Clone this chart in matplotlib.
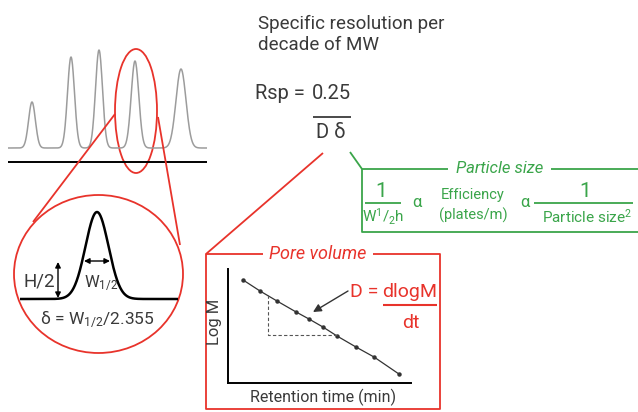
import matplotlib
matplotlib.use("Agg")
import numpy as np
import matplotlib.pyplot as plt
from matplotlib import font_manager
from matplotlib.patches import Ellipse

# font: prefer a narrow sans, fall back to Roboto
_names = {f.name for f in font_manager.fontManager.ttflist}
FONT = "Liberation Sans Narrow" if "Liberation Sans Narrow" in _names else "Roboto"
plt.rcParams["font.family"] = [FONT, "DejaVu Sans"]
plt.rcParams["mathtext.fontset"] = "custom"
plt.rcParams["mathtext.rm"] = FONT
plt.rcParams["mathtext.it"] = FONT + ":italic"

RED = "#e8332b"
GREEN = "#3aa54a"
TXT = "#3a3a3a"
GREY = "#9c9c9c"

# chromatogram peaks (pixel space of the drawing)
peak_pos = [32, 71, 99, 135, 181]
peak_height = [46, 91, 98, 87, 79]
peak_sigma = [3.4, 3.5, 3.5, 3.8, 5.0]
chrom_base = 148

# zoomed peak
zoom_pos, zoom_height, zoom_sigma, zoom_base = 97, 87, 11.5, 299

# calibration plot (log M vs retention time), arbitrary units 0..10
ret_time = [0.82, 1.75, 2.68, 3.72, 4.43, 5.19, 5.96, 6.99, 7.98, 9.34]
log_m = [9.04, 8.07, 7.19, 6.23, 5.61, 4.91, 4.12, 3.16, 2.28, 0.79]

W, H = 638, 412
fig = plt.figure(figsize=(W / 100, H / 100), dpi=100)
ax = fig.add_axes([0, 0, 1, 1])
ax.set_xlim(0, W)
ax.set_ylim(H, 0)
ax.axis("off")


def line(x, y, c, lw=1.2, **kw):
    ax.plot(x, y, color=c, lw=lw, solid_capstyle="butt", **kw)


# --- chromatogram ---
xs = np.linspace(8, 207, 600)
ys = np.full_like(xs, float(chrom_base))
for p, h, s in zip(peak_pos, peak_height, peak_sigma):
    ys -= h * np.exp(-0.5 * ((xs - p) / s) ** 2)
line(xs, ys, GREY, lw=1.1)
line([8, 207], [162, 162], "black", lw=1.4)

ax.add_patch(Ellipse((136, 111), 42, 124, fill=False, ec=RED, lw=1.3))
line([115, 33], [114, 222], RED, lw=1.3)
line([158, 180], [117, 245], RED, lw=1.3)

# --- zoom circle ---
ax.add_patch(Ellipse((98.5, 274), 169, 158, fill=False, ec=RED, lw=1.3))
zx = np.linspace(20, 178, 400)
zy = zoom_base - zoom_height * np.exp(-0.5 * ((zx - zoom_pos) / zoom_sigma) ** 2)
line(zx, zy, "black", lw=1.8)
ax.annotate("", xy=(58, 298), xytext=(58, 262),
            arrowprops=dict(arrowstyle="<|-|>", color="black", lw=1, mutation_scale=8,
                            shrinkA=0, shrinkB=0))
ax.annotate("", xy=(110, 261), xytext=(84, 261),
            arrowprops=dict(arrowstyle="<|-|>", color="black", lw=1, mutation_scale=8,
                            shrinkA=0, shrinkB=0))
ax.text(39, 286, "H/2", fontsize=13.5, color=TXT, ha="center", va="baseline")
ax.text(84, 287, "W$_{1/2}$", fontsize=12, color=TXT, ha="left", va="baseline")
ax.text(97, 324, "δ = W$_{1/2}$/2.355", fontsize=12.5, color=TXT, ha="center", va="baseline")

# --- title and Rsp formula ---
ax.text(258, 29, "Specific resolution per", fontsize=13.5, color=TXT, va="baseline")
ax.text(258, 50, "decade of MW", fontsize=13.5, color=TXT, va="baseline")
ax.text(305, 99, "Rsp =", fontsize=14.5, color=TXT, va="baseline", ha="right")
ax.text(331, 99, "0.25", fontsize=14.5, color=TXT, va="baseline", ha="center")
line([313, 351], [117, 117], TXT, lw=1.3)
ax.text(331, 138, "D δ", fontsize=14.5, color=TXT, va="baseline", ha="center")

# --- pore volume box ---
line([323, 206], [153, 254], RED, lw=1.3)
line([263, 206, 206, 440, 440, 373], [254, 254, 409, 409, 254, 254], RED, lw=1.3)
ax.text(318, 259, "Pore volume", fontsize=13, color=RED, style="italic",
        ha="center", va="baseline")
ax.text(215, 322, "Log M", fontsize=12, color=TXT, rotation=90, ha="center", va="center")
ax.text(323, 402, "Retention time (min)", fontsize=11.5, color=TXT, ha="center", va="baseline")
ax.annotate("", xy=(313, 312), xytext=(348, 291),
            arrowprops=dict(arrowstyle="-|>", color="#333333", lw=1, mutation_scale=12,
                            shrinkA=0, shrinkB=0))
ax.text(378, 297, "D =", fontsize=14, color=RED, va="baseline", ha="right")
ax.text(410, 297, "dlogM", fontsize=14, color=RED, va="baseline", ha="center")
line([383, 437], [305, 305], RED, lw=1.5)
ax.text(411, 328, "dt", fontsize=14, color=RED, va="baseline", ha="center")

# --- particle size box ---
line([350, 362], [152, 169], GREEN, lw=1.3)
line([448, 362, 362, 638], [169, 169, 232, 232], GREEN, lw=1.3)
line([551, 638], [169, 169], GREEN, lw=1.3)
ax.text(500, 173, "Particle size", fontsize=12, color=GREEN, style="italic",
        ha="center", va="baseline")
ax.text(381, 197, "1", fontsize=15, color=GREEN, ha="center", va="baseline")
line([365, 401], [203, 203], GREEN, lw=1.3)
ax.text(383, 222, "W$^{1}$/$_{2}$h", fontsize=11, color=GREEN, ha="center", va="baseline")
ax.text(417, 207, "α", fontsize=12, color=GREEN, ha="center", va="baseline")
ax.text(473, 199, "Efficiency", fontsize=10.5, color=GREEN, ha="center", va="baseline")
ax.text(473, 220, "(plates/m)", fontsize=10.5, color=GREEN, ha="center", va="baseline")
ax.text(525, 207, "α", fontsize=12, color=GREEN, ha="center", va="baseline")
ax.text(585, 197, "1", fontsize=15, color=GREEN, ha="center", va="baseline")
line([534, 633], [203, 203], GREEN, lw=1.3)
ax.text(587, 223, "Particle size$^{2}$", fontsize=11, color=GREEN, ha="center", va="baseline")

# --- calibration inset ---
ins = fig.add_axes([228 / W, (H - 383) / H, (411 - 228) / W, (383 - 269) / H])
ins.patch.set_alpha(0)
ins.set_xlim(0, 10)
ins.set_ylim(0, 10)
for s in ("top", "right"):
    ins.spines[s].set_visible(False)
for s in ("left", "bottom"):
    ins.spines[s].set_linewidth(1.4)
ins.set_xticks([])
ins.set_yticks([])
ins.plot(ret_time, log_m, color="#333333", lw=0.9, marker="o", ms=2.2, clip_on=False)
ins.plot([ret_time[2] - 0.49, ret_time[2] - 0.49, ret_time[6]],
         [7.72, log_m[6] + 0.09, log_m[6] + 0.09], color="#555555", lw=0.8, ls=(0, (3, 2)))

fig.savefig("out.png", dpi=100)
